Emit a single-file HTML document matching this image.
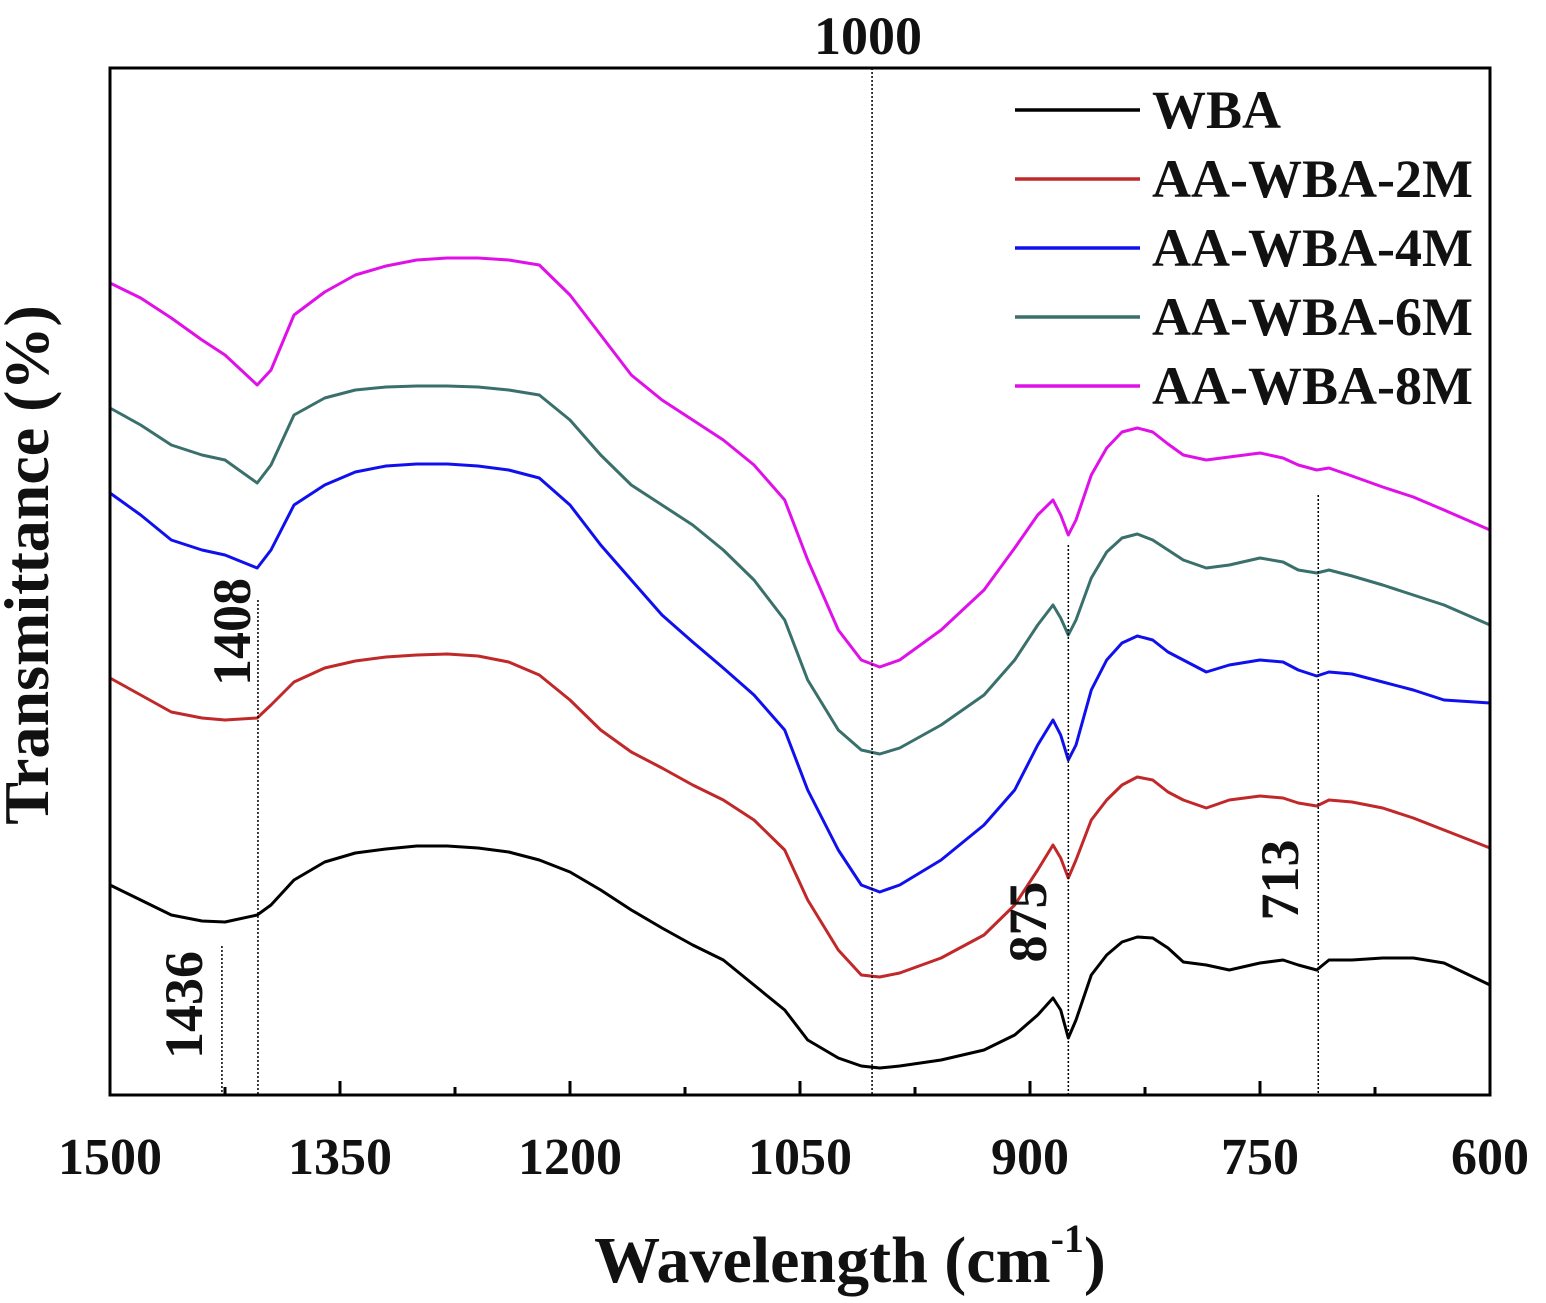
<!DOCTYPE html>
<html><head><meta charset="utf-8"><style>
html,body{margin:0;padding:0;background:#fff}
svg text{font-family:"Liberation Serif",serif;font-weight:bold;fill:#111}
</style></head><body>
<svg id="chart" width="1546" height="1298" viewBox="0 0 1546 1298" xmlns="http://www.w3.org/2000/svg">
<g id="curves"></g>
<g id="marks"></g>
<rect x="110" y="68" width="1380" height="1027" fill="none" stroke="#000" stroke-width="3"/>
<g id="axis"></g>
<text x="850" y="1282" font-size="66" text-anchor="middle">Wavelength (cm<tspan font-size="40" dy="-30">-1</tspan><tspan dy="30">)</tspan></text>
<text transform="translate(48,565) rotate(-90)" font-size="64" text-anchor="middle">Transmittance (%)</text>
<g id="legend"></g>
</svg>
<script>
const wn = [1500,1480,1460,1440,1425,1404,1395,1380,1360,1340,1320,1300,1280,1260,1240,1220,1200,1180,1160,1140,1120,1100,1080,1060,1045,1025,1010,998,985,958,930,910,895,885,880,875,870,860,850,840,830,820,810,800,785,770,750,735,725,713,705,690,670,650,630,600];
const wba = [21.0,19.5,18.0,17.4,17.3,18.0,19.0,21.5,23.3,24.2,24.6,24.9,24.9,24.7,24.3,23.5,22.3,20.5,18.5,16.7,15.0,13.5,11.0,8.5,5.5,3.7,2.9,2.7,2.9,3.5,4.5,6.0,8.0,9.7,8.5,5.7,7.5,12.0,14.0,15.3,15.8,15.7,14.7,13.3,13.0,12.5,13.2,13.5,13.0,12.5,13.5,13.5,13.7,13.7,13.2,11.0];
const aa2 = [41.7,40.0,38.3,37.7,37.5,37.7,39.0,41.3,42.7,43.4,43.8,44.0,44.1,43.9,43.3,42.0,39.5,36.5,34.3,32.7,31.0,29.5,27.5,24.5,19.5,14.5,12.0,11.8,12.2,13.7,16.0,19.0,22.5,25.0,23.7,21.7,23.5,27.5,29.5,31.0,31.8,31.5,30.3,29.5,28.7,29.5,29.9,29.7,29.2,28.9,29.5,29.3,28.7,27.7,26.5,24.7];
const aa4 = [60.2,58.0,55.5,54.5,54.0,52.7,54.5,59.0,61.0,62.3,62.9,63.1,63.1,62.9,62.5,61.7,59.0,55.0,51.5,48.0,45.3,42.7,40.0,36.5,30.5,24.5,21.0,20.3,21.0,23.5,27.0,30.5,35.0,37.5,36.0,33.5,35.0,40.5,43.5,45.2,45.9,45.5,44.3,43.5,42.3,43.0,43.5,43.3,42.5,41.9,42.3,42.1,41.3,40.5,39.5,39.2];
const aa6 = [68.7,67.0,65.0,64.0,63.5,61.2,63.0,68.0,69.7,70.5,70.8,70.9,70.9,70.8,70.5,70.0,67.5,64.0,61.0,59.0,57.0,54.5,51.5,47.5,41.5,36.5,34.5,34.1,34.7,37.0,40.0,43.5,47.0,49.0,47.7,46.0,47.5,51.7,54.3,55.7,56.1,55.5,54.5,53.5,52.7,53.0,53.7,53.3,52.5,52.2,52.5,51.9,51.0,50.0,49.0,47.0];
const aa8 = [81.2,79.7,77.7,75.5,74.0,71.0,72.5,78.0,80.3,82.0,82.9,83.5,83.7,83.7,83.5,83.0,80.0,76.0,72.0,69.5,67.5,65.5,63.0,59.5,53.5,46.5,43.5,42.8,43.5,46.5,50.5,54.7,58.0,59.5,58.0,56.0,57.5,62.0,64.7,66.3,66.7,66.3,65.1,64.0,63.5,63.8,64.2,63.7,63.0,62.5,62.7,61.9,60.8,59.8,58.5,56.5];
const seriesNames = ["WBA","AA-WBA-2M","AA-WBA-4M","AA-WBA-6M","AA-WBA-8M"];
const seriesColors = ["#000000","#c0282a","#1010ee","#3a706c","#e010e8"];
const xTicks = [1500,1350,1200,1050,900,750,600];
const xMinor = [1425,1275,1125,975,825,675];
const peakPos = [1427,1403.5,1003,875,712];
const peakTop = [14.9,49.5,102.7,55,60];
const peakLabels = ["1436","1408","1000","875","713"];
const X0=110,X1=1490,Y0=1095;
function x(v){return X0+(1500-v)*(X1-X0)/900;}
function y(v){return Y0-v*10;}
const NS="http://www.w3.org/2000/svg";
function mk(t,p,a){const e=document.createElementNS(NS,t);for(const k in a)e.setAttribute(k,a[k]);p.appendChild(e);return e;}
const cg=document.getElementById('curves');
[wba,aa2,aa4,aa6,aa8].forEach((s,i)=>{
 const p=mk('path',cg,{d:s.map((v,j)=>(j?'L':'M')+x(wn[j]).toFixed(1)+' '+y(v).toFixed(1)).join(' '),fill:'none',stroke:seriesColors[i],'stroke-width':3,'stroke-linejoin':'round'});
 
 
});
const mg=document.getElementById('marks');
peakPos.forEach((w,i)=>{
 const l=mk('line',mg,{x1:x(w),x2:x(w),y1:y(peakTop[i]),y2:Y0,stroke:'#000','stroke-width':1.5,'stroke-dasharray':'2,2'});
 
 
});
const lblPos=[[202,1005,1],[250,632,1],[868,54,0],[1046,922,1],[1298,880,1]];
peakLabels.forEach((t,i)=>{
 const [px,py,r]=lblPos[i];
 const e=mk('text',mg,{'font-size':54,'text-anchor':'middle',transform:`translate(${px},${py})`+(r?' rotate(-90)':'')});
 e.textContent=t;
 
 
});
const ag=document.getElementById('axis');
xTicks.forEach(v=>{
 const t=mk('line',ag,{x1:x(v),x2:x(v),y1:Y0,y2:Y0-14,stroke:'#000','stroke-width':3});
 
 
 const tx=mk('text',ag,{x:x(v),y:1174,'font-size':52,'text-anchor':'middle'});
 tx.textContent=v;
 
 
});
xMinor.forEach(v=>{
 const t=mk('line',ag,{x1:x(v),x2:x(v),y1:Y0,y2:Y0-8,stroke:'#000','stroke-width':3});
 
 
});
const lg=document.getElementById('legend');
seriesNames.forEach((n,i)=>{
 const yy=110+i*69;
 const l=mk('line',lg,{x1:1015,x2:1140,y1:yy,y2:yy,stroke:seriesColors[i],'stroke-width':3.5});
 
 
 const t=mk('text',lg,{x:1152,y:yy+18,'font-size':54});
 t.textContent=n;
 
 
});
</script>
</body></html>
